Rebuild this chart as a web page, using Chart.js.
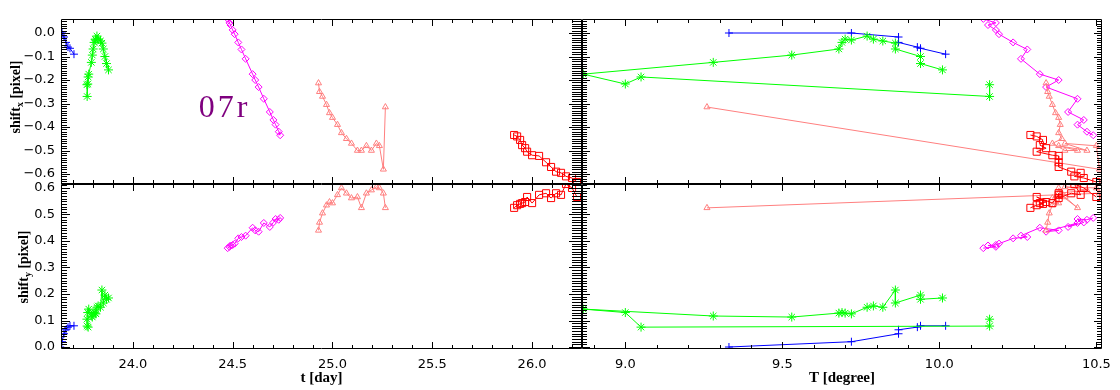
<!DOCTYPE html>
<html>
<head>
<meta charset="utf-8">
<script src="https://cdn.jsdelivr.net/npm/chart.js@4.4.1/dist/chart.umd.min.js"></script>
<style>
  html, body { margin: 0; padding: 0; background: #fff; }
  #wrap { position: relative; width: 1120px; height: 390px; }
  #wrap canvas { position: absolute; left: 0; top: 0; }
</style>
</head>
<body>
<div id="wrap">
  <canvas id="topLeft" width="1120" height="390"></canvas>
  <canvas id="topRight" width="1120" height="390"></canvas>
  <canvas id="botLeft" width="1120" height="390"></canvas>
  <canvas id="botRight" width="1120" height="390"></canvas>
</div>
<script>
// tick labels
const dayTicks = [24.0, 24.5, 25.0, 25.5, 26.0]
const dayLabels = ["24.0", "24.5", "25.0", "25.5", "26.0"]
const degTicks = [9.0, 9.5, 10.0, 10.5]
const degLabels = ["9.0", "9.5", "10.0", "10.5"]
const sxTicks = [-0.6, -0.5, -0.4, -0.3, -0.2, -0.1, 0.0]
const sxLabels = ["\u22120.6", "\u22120.5", "\u22120.4", "\u22120.3", "\u22120.2", "\u22120.1", "0.0"]
const syTicks = [0.0, 0.1, 0.2, 0.3, 0.4, 0.5, 0.6]
const syLabels = ["0.0", "0.1", "0.2", "0.3", "0.4", "0.5", "0.6"]

// blue (+)
const blueDay = [23.636, 23.645, 23.655, 23.665, 23.675, 23.685, 23.705]
const blueTemp = [9.33, 9.72, 9.87, 9.87, 9.93, 9.94, 10.02]
const blueShiftX = [0.0, 0.0, -0.017, -0.04, -0.06, -0.065, -0.09]
const blueShiftY = [0.0, 0.02, 0.05, 0.065, 0.075, 0.08, 0.08]

// green (*)
const greenDay = [23.770, 23.771, 23.776, 23.774, 23.779, 23.792, 23.797, 23.801, 23.806, 23.812,
                  23.815, 23.820, 23.826, 23.838, 23.845, 23.852, 23.860, 23.868, 23.878]
const greenTemp = [10.16, 10.16, 9.05, 9.0, 8.866, 9.28, 9.53, 9.68, 9.69, 9.70,
                   9.72, 9.77, 9.79, 9.82, 9.86, 9.86, 9.94, 9.94, 10.01]
const greenShiftX = [-0.22, -0.27, -0.187, -0.217, -0.175, -0.125, -0.094, -0.068, -0.04, -0.026,
                     -0.03, -0.013, -0.026, -0.034, -0.043, -0.068, -0.10, -0.13, -0.157]
const greenShiftY = [0.105, 0.079, 0.075, 0.13, 0.143, 0.117, 0.113, 0.128, 0.13, 0.128,
                     0.125, 0.15, 0.155, 0.15, 0.215, 0.166, 0.196, 0.18, 0.185]

// magenta (diamonds)
const magDay = [24.475, 24.484, 24.489, 24.500, 24.510, 24.528, 24.544, 24.565, 24.600,
                24.613, 24.630, 24.656, 24.686, 24.704, 24.715, 24.731, 24.738]
const magTemp = [10.14, 10.18, 10.155, 10.18, 10.19, 10.235, 10.28, 10.26, 10.32,
                 10.38, 10.34, 10.44, 10.41, 10.46, 10.44, 10.47, 10.49]
const magShiftX = [0.06, 0.043, 0.034, 0.013, -0.005, -0.04, -0.07, -0.11, -0.175,
                   -0.2, -0.23, -0.28, -0.336, -0.37, -0.39, -0.42, -0.435]
const magShiftY = [0.373, 0.378, 0.383, 0.385, 0.39, 0.41, 0.415, 0.42, 0.45,
                   0.44, 0.435, 0.468, 0.453, 0.47, 0.483, 0.48, 0.487]

// salmon (triangles)
const salDay = [24.93, 24.935, 24.95, 24.97, 24.985, 25.0, 25.025, 25.045, 25.07,
                25.095, 25.125, 25.145, 25.17, 25.195, 25.22, 25.235, 25.255, 25.265]
const salTemp = [10.34, 10.345, 10.35, 10.36, 10.37, 10.38, 10.385, 10.38, 10.39,
                 10.36, 10.40, 10.44, 10.38, 10.47, 10.40, 10.50, 10.51, 9.26]
const salShiftX = [-0.213, -0.25, -0.27, -0.305, -0.34, -0.36, -0.39, -0.425, -0.45,
                   -0.47, -0.50, -0.50, -0.48, -0.50, -0.47, -0.48, -0.58, -0.315]
const salShiftY = [0.44, 0.47, 0.505, 0.535, 0.547, 0.543, 0.574, 0.60, 0.58,
                   0.562, 0.566, 0.525, 0.58, 0.592, 0.604, 0.60, 0.58, 0.525]

// red (squares)
const redDay = [25.91, 25.925, 25.94, 25.95, 25.965, 25.975, 26.0, 26.035, 26.07,
                26.095, 26.12, 26.145, 26.17, 26.2, 26.225]
const redTemp = [10.29, 10.31, 10.33, 10.32, 10.34, 10.31, 10.36, 10.38, 10.38,
                 10.38, 10.42, 10.45, 10.43, 10.46, 10.50]
const redShiftX = [-0.434, -0.44, -0.455, -0.477, -0.49, -0.505, -0.52, -0.523, -0.55,
                   -0.57, -0.59, -0.595, -0.61, -0.617, -0.634]
const redShiftY = [0.525, 0.535, 0.54, 0.543, 0.547, 0.566, 0.543, 0.574, 0.58,
                   0.562, 0.58, 0.574, 0.615, 0.60, 0.566]

// first in list is drawn on top
const series = [
  {color: "#ff0000", style: "rect", r: 5, t: redDay, T: redTemp, sx: redShiftX, sy: redShiftY},
  {color: "#ff7f7f", style: "triangle", r: 3.5, t: salDay, T: salTemp, sx: salShiftX, sy: salShiftY},
  {color: "#ff00ff", style: "rectRot", r: 3.5, t: magDay, T: magTemp, sx: magShiftX, sy: magShiftY},
  {color: "#00ff00", style: "star", r: 4.5, t: greenDay, T: greenTemp, sx: greenShiftX, sy: greenShiftY},
  {color: "#0000ff", style: "cross", r: 4, t: blueDay, T: blueTemp, sx: blueShiftX, sy: blueShiftY}
]

const tickFont = {family: "DejaVu Sans", size: 13}
const titleFont = {family: "Liberation Serif", size: 15, weight: "bold"}

// frame with inward ticks, y titles, panel label
const idlFrame = {
  id: "idlFrame",
  afterDatasetsDraw(chart, args, o) {
    const {ctx, chartArea: a} = chart
    const xs = chart.scales.x, ys = chart.scales.y
    ctx.save()
    ctx.strokeStyle = "#000"
    ctx.lineWidth = 1
    ctx.beginPath()
    ctx.rect(a.left + 0.5, a.top + 0.5, a.right - a.left - 1, a.bottom - a.top - 1)

    const n0 = Math.ceil(xs.min / o.xMinor - 1e-6), n1 = Math.floor(xs.max / o.xMinor + 1e-6)
    for (let k = n0; k <= n1; k++) {
      const v = k * o.xMinor
      const major = Math.abs(v / o.xMajor - Math.round(v / o.xMajor)) < 1e-6
      const len = major ? 7 : 4
      const px = Math.round(xs.getPixelForValue(v)) + 0.5
      ctx.moveTo(px, a.bottom); ctx.lineTo(px, a.bottom - len)
      ctx.moveTo(px, a.top); ctx.lineTo(px, a.top + len)
    }
    const m0 = Math.ceil(ys.min / 0.01 - 1e-6), m1 = Math.floor(ys.max / 0.01 + 1e-6)
    for (let k = m0; k <= m1; k++) {
      const v = k * 0.01
      const major = k % 10 === 0
      const py = Math.round(ys.getPixelForValue(v)) + 0.5
      ctx.moveTo(a.left, py); ctx.lineTo(a.left + o.leftLen + (major ? 3 : 0), py)
      ctx.moveTo(a.right, py); ctx.lineTo(a.right - o.rightLen - (major ? 3 : 0), py)
    }
    ctx.stroke()

    if (o.yTitle) {
      const f1 = "bold 14px 'Liberation Serif'", f2 = "bold 10px 'Liberation Serif'"
      ctx.fillStyle = "#000"
      ctx.font = f1
      const w1 = ctx.measureText("shift").width
      const w3 = ctx.measureText(" [pixel]").width
      ctx.font = f2
      const w2 = ctx.measureText(o.yTitle.sub).width
      const start = -(w1 + w2 + w3) / 2
      ctx.translate(o.yTitle.x, o.yTitle.y)
      ctx.rotate(-Math.PI / 2)
      ctx.textBaseline = "alphabetic"
      ctx.font = f1
      ctx.fillText("shift", start, 0)
      ctx.font = f2
      ctx.fillText(o.yTitle.sub, start + w1, 3)
      ctx.font = f1
      ctx.fillText(" [pixel]", start + w1 + w2, 0)
      ctx.setTransform(1, 0, 0, 1, 0, 0)
    }
    if (o.label) {
      ctx.fillStyle = "#7f007f"
      ctx.font = "32px 'Liberation Serif'"
      ctx.letterSpacing = "3px"
      ctx.textBaseline = "alphabetic"
      ctx.fillText(o.label.text, xs.getPixelForValue(o.label.t), ys.getPixelForValue(o.label.s))
    }
    ctx.restore()
  }
}

function makeChart(id, p) {
  const datasets = series.map(s => ({
    data: s[p.xKey].map((v, i) => ({x: v, y: s[p.yKey][i]})),
    showLine: true,
    borderColor: s.color,
    borderWidth: 1,
    pointStyle: s.style,
    pointRadius: s.r,
    pointBorderColor: s.color,
    pointBackgroundColor: "rgba(0,0,0,0)",
    pointBorderWidth: 1,
    clip: 0
  }))
  const showX = p.xLabels != null, showY = p.yLabels != null
  const xAxis = {
    type: "linear", min: p.xMin, max: p.xMax, display: showX,
    afterBuildTicks: s => { s.ticks = p.xTicks.map(v => ({value: v})) },
    afterFit: s => {
      s.height = showX ? 390 - p.area.b : 0
      s.paddingLeft = 0; s.paddingRight = 0
    },
    grid: {display: false, drawTicks: false}, border: {display: false},
    ticks: {padding: 8, color: "#000", font: tickFont, autoSkip: false, maxRotation: 0,
            callback: (v, i) => showX ? p.xLabels[i] : ""},
    title: {display: !!p.xTitle, text: p.xTitle, color: "#000", font: titleFont, padding: {top: 0, bottom: 3}}
  }
  const yAxis = {
    type: "linear", min: p.yMin, max: p.yMax, display: showY,
    afterBuildTicks: s => { s.ticks = p.yTicks.map(v => ({value: v})) },
    afterFit: s => {
      s.width = showY ? p.area.l : 0
      s.paddingTop = 0; s.paddingBottom = 0
    },
    grid: {display: false, drawTicks: false}, border: {display: false},
    ticks: {padding: 6, color: "#000", font: tickFont, autoSkip: false,
            callback: (v, i) => showY ? p.yLabels[i] : ""}
  }
  const pad = {
    left: showY ? 0 : p.area.l,
    top: p.area.t,
    right: 1120 - p.area.r,
    bottom: showX ? 0 : 390 - p.area.b
  }
  return new Chart(document.getElementById(id), {
    type: "scatter",
    data: {datasets},
    plugins: [idlFrame],
    options: {
      responsive: false, animation: false, devicePixelRatio: 1, events: [],
      layout: {padding: pad},
      scales: {x: xAxis, y: yAxis},
      plugins: {
        legend: {display: false}, tooltip: {enabled: false},
        idlFrame: {xMinor: 0.1, xMajor: 0.5, leftLen: p.leftLen, rightLen: p.rightLen,
                   yTitle: p.yTitle, label: p.label}
      }
    }
  })
}

const dayRange = {xMin: 23.64, xMax: 26.25, xTicks: dayTicks}
const degRange = {xMin: 8.862, xMax: 10.518, xTicks: degTicks}
const sxRange = {yMin: -0.6425, yMax: 0.0596, yTicks: sxTicks}
const syRange = {yMin: -0.0075, yMax: 0.615, yTicks: syTicks}

makeChart("topLeft", {...dayRange, ...sxRange, xKey: "t", yKey: "sx",
  area: {l: 61, t: 19, r: 582, b: 184}, yLabels: sxLabels, leftLen: 6, rightLen: 10,
  yTitle: {sub: "x", x: 20, y: 97}, label: {text: "07r", t: 24.33, s: -0.357}})
makeChart("topRight", {...degRange, ...sxRange, xKey: "T", yKey: "sx",
  area: {l: 582, t: 19, r: 1102, b: 184}, leftLen: 5, rightLen: 5})
makeChart("botLeft", {...dayRange, ...syRange, xKey: "t", yKey: "sy",
  area: {l: 61, t: 184, r: 582, b: 349}, yLabels: syLabels, xLabels: dayLabels, xTitle: "t [day]",
  leftLen: 6, rightLen: 10, yTitle: {sub: "y", x: 28, y: 267}})
makeChart("botRight", {...degRange, ...syRange, xKey: "T", yKey: "sy",
  area: {l: 582, t: 184, r: 1102, b: 349}, xLabels: degLabels, xTitle: "T [degree]",
  leftLen: 5, rightLen: 5})
</script>
</body>
</html>
